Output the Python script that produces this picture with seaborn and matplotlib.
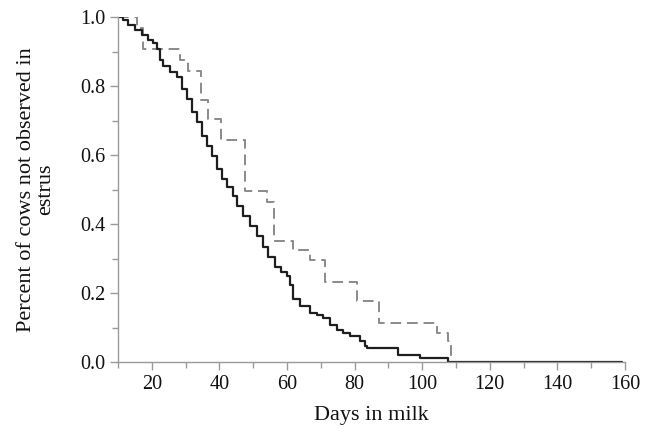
import matplotlib
matplotlib.use("Agg")
import matplotlib.pyplot as plt
from matplotlib.ticker import MultipleLocator, FormatStrFormatter
import seaborn as sns
import pandas as pd

# Solid curve (step function, value holds from day onward)
solid_days = [10.0, 11.5, 13.0, 15.0, 17.1, 18.9, 20.4, 21.5, 22.5, 23.2, 25.4, 27.5,
              28.9, 30.4, 31.9, 33.4, 34.9, 36.3, 37.8, 39.3, 40.8, 42.2, 44.0, 45.2,
              47.0, 49.1, 51.1, 52.9, 54.3, 56.5, 58.3, 60.0, 60.9, 61.8, 63.8, 66.8,
              68.9, 70.7, 72.7, 74.8, 76.6, 78.6, 81.6, 83.1, 83.7, 92.8, 99.4, 107.7,
              159.0]
solid_surv = [1.000, 0.991, 0.977, 0.963, 0.948, 0.934, 0.925, 0.907, 0.876, 0.858, 0.841, 0.827,
              0.790, 0.761, 0.726, 0.695, 0.654, 0.625, 0.597, 0.559, 0.530, 0.507, 0.481, 0.452,
              0.424, 0.394, 0.366, 0.333, 0.304, 0.275, 0.262, 0.250, 0.222, 0.184, 0.161, 0.141,
              0.135, 0.127, 0.107, 0.092, 0.084, 0.075, 0.061, 0.046, 0.040, 0.021, 0.012, 0.000,
              0.000]

# Dashed curve
dashed_days = [10.0, 15.6, 17.3, 28.3, 30.7, 34.6, 36.5, 40.5, 47.5, 54.1, 56.2, 61.8,
               66.8, 71.2, 80.7, 87.3, 104.4, 107.6, 108.4]
dashed_surv = [1.000, 0.967, 0.907, 0.876, 0.844, 0.760, 0.703, 0.644, 0.497, 0.464, 0.352, 0.324,
               0.295, 0.233, 0.176, 0.112, 0.084, 0.060, 0.000]

x_ticks = [20, 40, 60, 80, 100, 120, 140, 160]
y_ticks = [0.0, 0.2, 0.4, 0.6, 0.8, 1.0]

sns.set_style("ticks")
plt.rcParams['font.family'] = ['Liberation Serif', 'DejaVu Serif']
plt.rcParams['font.size'] = 14

fig = plt.figure(figsize=(6.5, 4.37), dpi=100)
ax = fig.add_axes([0.1815, 0.1716, 0.78, 0.7894])

df_s = pd.DataFrame({"day": solid_days, "surv": solid_surv})
df_d = pd.DataFrame({"day": dashed_days, "surv": dashed_surv})

sns.lineplot(data=df_d, x="day", y="surv", ax=ax, drawstyle="steps-post", color="#8a8a8a",
             linewidth=1.4, linestyle=(0, (5.5, 3)), sort=False, estimator=None)
sns.lineplot(data=df_s, x="day", y="surv", ax=ax, drawstyle="steps-post", color="#1e1e1e",
             linewidth=1.6, sort=False, estimator=None)

ax.set_xlim(10, 160)
ax.set_ylim(0, 1.0)
ax.set_xticks(x_ticks)
ax.set_yticks(y_ticks)
ax.xaxis.set_minor_locator(MultipleLocator(10))
ax.yaxis.set_minor_locator(MultipleLocator(0.1))
ax.yaxis.set_major_formatter(FormatStrFormatter("%.1f"))

for side in ["top", "right"]:
    ax.spines[side].set_visible(False)
for side in ["left", "bottom"]:
    ax.spines[side].set_color("#9a9a9a")
    ax.spines[side].set_linewidth(1.0)

ax.tick_params(axis="both", which="major", direction="out", length=6, width=1.0,
               color="#9a9a9a", labelsize=14.5, labelcolor="#111111", pad=3)
ax.tick_params(axis="both", which="minor", direction="out", length=4, width=1.0,
               color="#9a9a9a")

ax.set_xlabel("Days in milk", fontsize=16, color="#111111", labelpad=9)
ax.set_ylabel("Percent of cows not observed in\nestrus", fontsize=16, color="#111111",
              labelpad=18, linespacing=1.0)

fig.savefig("out.png", dpi=100)
